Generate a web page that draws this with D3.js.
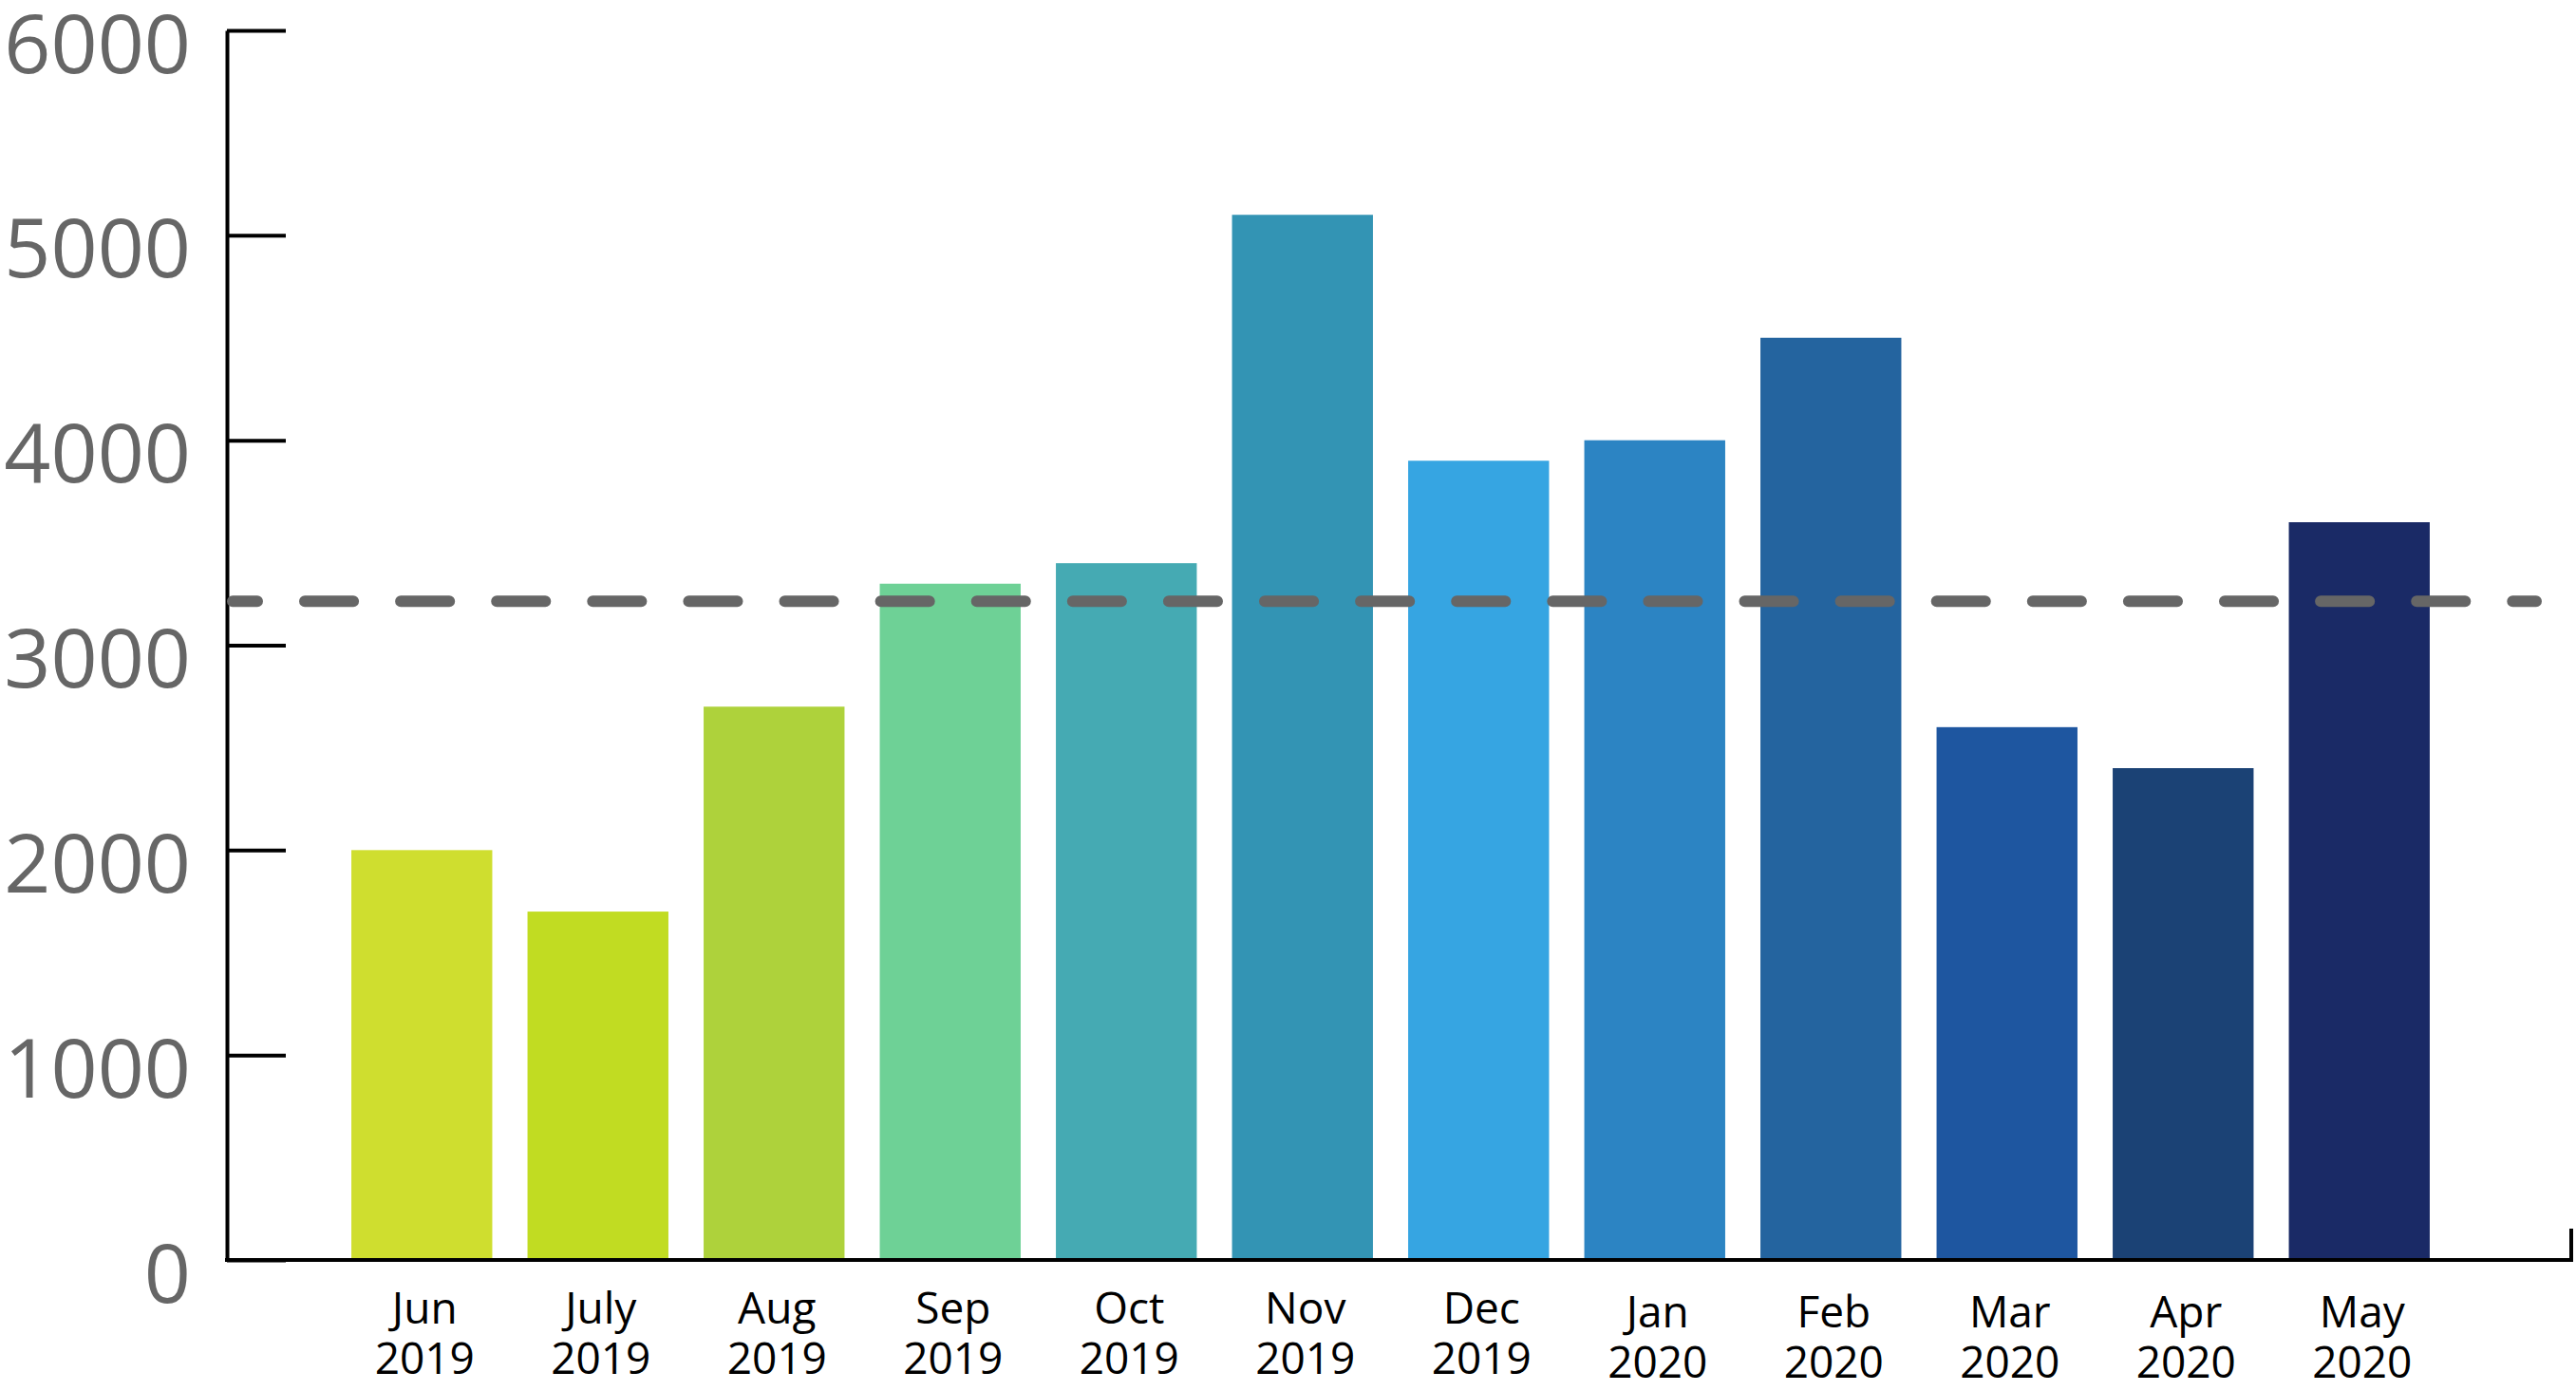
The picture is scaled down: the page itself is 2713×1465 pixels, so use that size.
<!DOCTYPE html>
<html>
<head>
<meta charset="utf-8">
<script src="https://cdn.jsdelivr.net/npm/d3@7/dist/d3.min.js"></script>
<style>
  html, body { margin: 0; padding: 0; background: #ffffff; }
  svg { display: block; }
  text { font-family: "Open Sans", "Noto Sans", sans-serif; }
</style>
</head>
<body>
<svg id="chart" width="2713" height="1465"></svg>
<script>
// ---- data ----
const months = ["Jun", "July", "Aug", "Sep", "Oct", "Nov", "Dec", "Jan", "Feb", "Mar", "Apr", "May"];
const years  = ["2019", "2019", "2019", "2019", "2019", "2019", "2019", "2020", "2020", "2020", "2020", "2020"];
const values = [2000, 1700, 2700, 3300, 3400, 5100, 3900, 4000, 4500, 2600, 2400, 3600];
const barColors = ["#CFDE2F", "#C1DC22", "#AED23B", "#6ED196", "#45AAB3", "#3394B4",
                   "#36A5E2", "#2C84C3", "#24649F", "#1E56A0", "#1B4275", "#1A2A66"];
const yTicks = [0, 1000, 2000, 3000, 4000, 5000, 6000];
const referenceLine = 3214;

// ---- layout ----
const svg = d3.select("#chart");
const categories = months.map((m, i) => m + " " + years[i]);

const y = d3.scaleLinear().domain([0, 6000]).range([1327, 32]);
const x = d3.scaleBand().domain(categories).range([351.5, 2577.5])
  .paddingInner(0.2).paddingOuter(0.1);

// bars
svg.append("g").selectAll("rect")
  .data(values)
  .join("rect")
  .attr("x", (d, i) => x(categories[i]))
  .attr("y", d => y(d))
  .attr("width", x.bandwidth())
  .attr("height", d => y(0) - y(d))
  .attr("fill", (d, i) => barColors[i]);

// y axis
const yAxis = d3.axisLeft(y)
  .tickValues(yTicks)
  .tickFormat(d3.format("d"))
  .tickSizeInner(-62)
  .tickSizeOuter(0)
  .tickPadding(38);

const yg = svg.append("g").attr("transform", "translate(239,0)").call(yAxis);
yg.select(".domain").attr("stroke", "#000").attr("stroke-width", 4);
yg.selectAll(".tick line").attr("stroke", "#000").attr("stroke-width", 4);
yg.selectAll(".tick text")
  .attr("fill", "#666666")
  .attr("font-size", 86)
  .attr("font-family", "'Open Sans', sans-serif")
  .attr("dy", 44);

// x axis line (extends past the last bar, with a small upturn at the end)
const xEnd = 2708;
svg.append("path")
  .attr("d", `M${237},${y(0)} H${xEnd} V${y(0) - 33}`)
  .attr("fill", "none")
  .attr("stroke", "#000")
  .attr("stroke-width", 4);

// x labels
const xAxis = d3.axisBottom(x).tickSize(0).tickFormat(() => "");
const xg = svg.append("g").attr("transform", `translate(0,${y(0)})`).call(xAxis);
xg.select(".domain").remove();
xg.selectAll(".tick").each(function(d, i) {
  const g = d3.select(this);
  const shift = years[i] === "2020" ? 4 : 0;
  g.append("text")
    .attr("text-anchor", "middle")
    .attr("fill", "#000")
    .attr("font-size", 46)
    .attr("font-family", "'Open Sans', sans-serif")
    .attr("x", 3).attr("y", 67 + shift)
    .text(months[i]);
  g.append("text")
    .attr("text-anchor", "middle")
    .attr("fill", "#000")
    .attr("font-size", 46)
    .attr("font-family", "'Open Sans', sans-serif")
    .attr("x", 3).attr("y", 120 + shift)
    .text(years[i]);
});

// dashed reference line
svg.append("line")
  .attr("x1", 245)
  .attr("x2", 2671)
  .attr("y1", y(referenceLine))
  .attr("y2", y(referenceLine))
  .attr("stroke", "#666666")
  .attr("stroke-width", 12)
  .attr("stroke-linecap", "round")
  .attr("stroke-dasharray", "51.1,50")
  .attr("stroke-dashoffset", 25.1);
</script>
</body>
</html>
